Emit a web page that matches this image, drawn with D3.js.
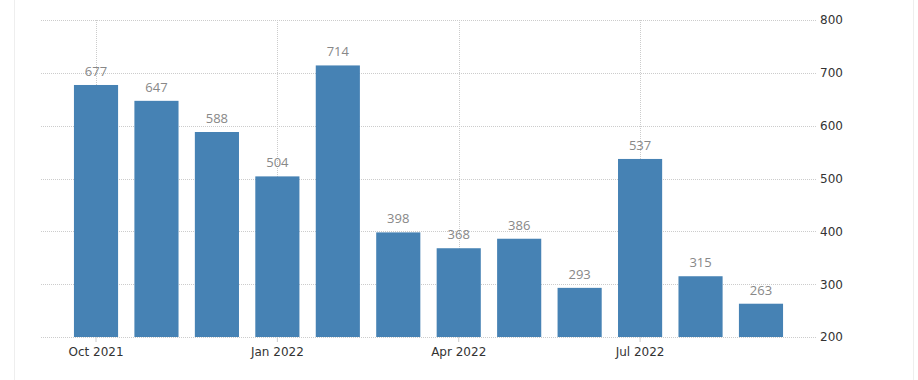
<!DOCTYPE html>
<html>
<head>
<meta charset="utf-8">
<script src="https://cdn.jsdelivr.net/npm/d3@7"></script>
<style>
  body { margin: 0; background: #fff; }
  svg { display: block; font-family: "DejaVu Sans", sans-serif; }
</style>
</head>
<body>
<svg id="chart" width="918" height="380"></svg>
<script>
"use strict"

// months shown as bars
const months = ["Oct 2021", "Nov 2021", "Dec 2021", "Jan 2022", "Feb 2022", "Mar 2022",
                "Apr 2022", "May 2022", "Jun 2022", "Jul 2022", "Aug 2022", "Sep 2022"]
// value per month
const values = [677, 647, 588, 504, 714, 398, 368, 386, 293, 537, 315, 263]
// labelled x ticks
const xTickLabels = ["Oct 2021", "Jan 2022", "Apr 2022", "Jul 2022"]
// y ticks
const yTicks = [200, 300, 400, 500, 600, 700, 800]

const data = months.map((m, i) => ({ month: m, value: values[i] }))

const svg = d3.select("#chart")
const plot = { left: 41, right: 816, top: 20, bottom: 337 }

// container border lines
svg.append("line").attr("x1", 14.5).attr("x2", 14.5).attr("y1", 0).attr("y2", 380)
    .attr("stroke", "#eeeeee")
svg.append("line").attr("x1", 913.5).attr("x2", 913.5).attr("y1", 0).attr("y2", 380)
    .attr("stroke", "#eeeeee")

const x = d3.scaleBand()
    .domain(months)
    .range([plot.left, plot.right])
    .paddingInner(0.27)
    .paddingOuter(0.545)

const y = d3.scaleLinear()
    .domain([200, 800])
    .range([plot.bottom, plot.top])

// horizontal grid
svg.append("g")
    .selectAll("line")
    .data(yTicks)
    .join("line")
    .attr("x1", plot.left).attr("x2", plot.right)
    .attr("y1", d => Math.round(y(d)) + 0.5)
    .attr("y2", d => Math.round(y(d)) + 0.5)
    .attr("stroke", "#cccccc")
    .attr("stroke-dasharray", "1,1")

// vertical grid
svg.append("g")
    .selectAll("line")
    .data(xTickLabels)
    .join("line")
    .attr("x1", d => Math.round(x(d) + x.bandwidth() / 2) + 0.5)
    .attr("x2", d => Math.round(x(d) + x.bandwidth() / 2) + 0.5)
    .attr("y1", plot.top).attr("y2", plot.bottom)
    .attr("stroke", "#cccccc")
    .attr("stroke-dasharray", "1,1")

// bars
svg.append("g")
    .selectAll("rect")
    .data(data)
    .join("rect")
    .attr("x", d => x(d.month))
    .attr("y", d => y(d.value))
    .attr("width", x.bandwidth())
    .attr("height", d => plot.bottom - y(d.value))
    .attr("fill", "#4682b4")

// value labels
svg.append("g")
    .selectAll("text")
    .data(data)
    .join("text")
    .attr("x", d => x(d.month) + x.bandwidth() / 2)
    .attr("y", d => y(d.value) - 9)
    .attr("text-anchor", "middle")
    .style("font-size", "13px")
    .style("font-family", "'Open Sans', sans-serif")
    .attr("fill", "#888888")
    .text(d => d.value)

// x axis
const xAxis = d3.axisBottom(x).tickValues(xTickLabels).tickSize(5).tickSizeOuter(0)
const gx = svg.append("g")
    .attr("transform", "translate(0," + plot.bottom + ")")
    .call(xAxis)
gx.select(".domain").remove()
gx.selectAll(".tick line").attr("stroke", "#cccccc")
gx.selectAll(".tick text")
    .attr("y", 10)
    .style("font-size", "12px")
    .style("font-family", "DejaVu Sans")
    .attr("fill", "#333333")

// y axis on the right
const yAxis = d3.axisRight(y).tickValues(yTicks).tickSize(0)
const gy = svg.append("g")
    .attr("transform", "translate(" + (plot.right + 4) + ",0)")
    .call(yAxis)
gy.select(".domain").remove()
gy.selectAll(".tick text")
    .attr("x", 0)
    .style("font-size", "12px")
    .style("font-family", "DejaVu Sans")
    .attr("fill", "#333333")
</script>
</body>
</html>
